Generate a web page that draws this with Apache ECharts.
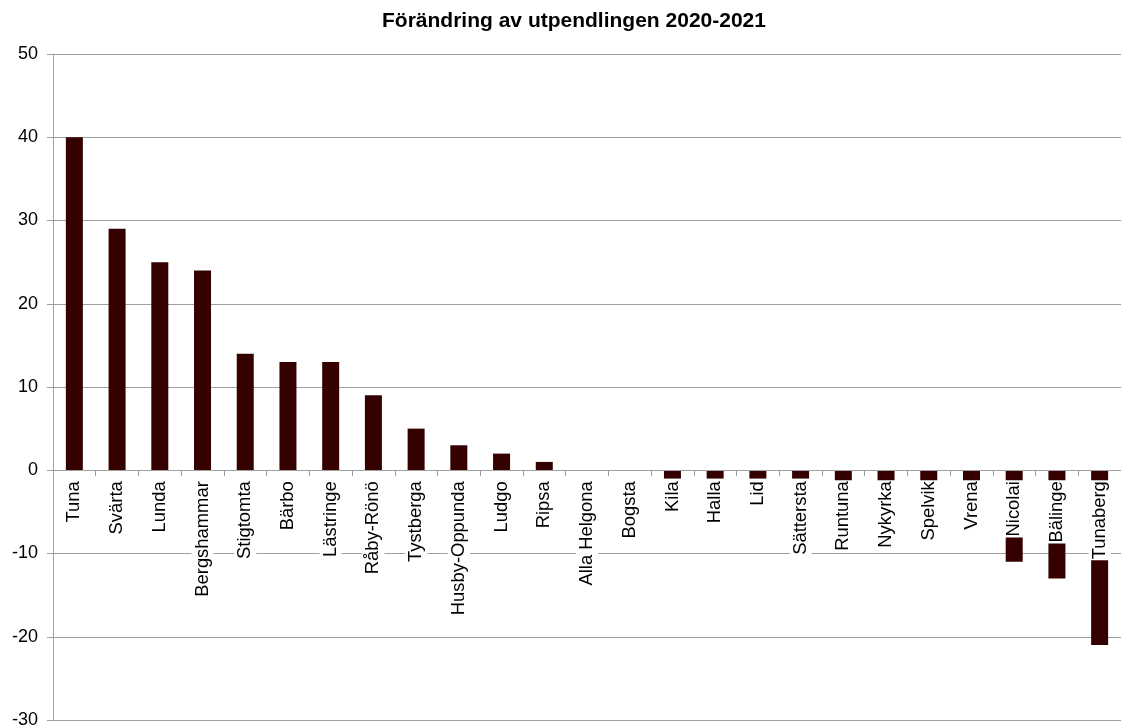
<!DOCTYPE html>
<html>
<head>
<meta charset="utf-8">
<script src="https://cdn.jsdelivr.net/npm/echarts@6/dist/echarts.min.js"></script>
<style>html,body{margin:0;padding:0;background:#fff}#c{width:1121px;height:728px}</style>
</head>
<body>
<div id="c"></div>
<script>
const titleText = 'Förändring av utpendlingen 2020-2021';
const categories = ['Tuna','Svärta','Lunda','Bergshammar','Stigtomta','Bärbo','Lästringe','Råby-Rönö','Tystberga','Husby-Oppunda','Ludgo','Ripsa','Alla Helgona','Bogsta','Kila','Halla','Lid','Sättersta','Runtuna','Nykyrka','Spelvik','Vrena','Nicolai','Bälinge','Tunaberg'];
const values = [40,29,25,24,14,13,13,9,5,3,2,1,0,0,-1,-1,-1,-1,-2,-2,-2,-2,-11,-13,-21];
const yMin = -30, yMax = 50, yStep = 10;

const chartH = 728, gridTop = 54, gridBottom = 8;
const plotH = chartH - gridTop - gridBottom;
const zeroY = gridTop + plotH * yMax / (yMax - yMin);
const font = 'Liberation Sans, Arial, sans-serif';
const gray = '#a0a0a0';

const chart = echarts.init(document.getElementById('c'));
chart.setOption({
  animation: false,
  backgroundColor: '#fff',
  title: {
    text: titleText,
    left: 569, top: 6, textAlign: 'center',
    textStyle: {fontFamily: font, fontWeight: 'bold', fontSize: 21, color: '#000'}
  },
  grid: [
    {left: 53, right: 0, top: gridTop, bottom: gridBottom, containLabel: false, outerBoundsMode: 'none'},
    {left: 53, right: 0, top: gridTop, bottom: chartH - zeroY, containLabel: false, outerBoundsMode: 'none'}
  ],
  xAxis: [
    {
      type: 'category', data: categories, gridIndex: 0,
      axisLine: {show: false}, axisTick: {show: false}, axisLabel: {show: false}, splitLine: {show: false}
    },
    {
      type: 'category', data: categories, gridIndex: 1, z: 10,
      axisLine: {show: true, onZero: false, lineStyle: {color: gray, width: 1}},
      axisTick: {show: true, length: 6, inside: false, lineStyle: {color: gray}},
      axisLabel: {
        interval: 0, rotate: 90, margin: 10,
        fontFamily: font, fontSize: 18.4, color: '#000',
        backgroundColor: '#fff', padding: [1, 1], lineHeight: 20
      },
      splitLine: {show: false}
    }
  ],
  yAxis: [
    {
      type: 'value', min: yMin, max: yMax, interval: yStep, gridIndex: 0, z: 0,
      axisLine: {show: true, lineStyle: {color: gray, width: 1}},
      axisTick: {show: true, length: 6, lineStyle: {color: gray}},
      axisLabel: {margin: 15, fontFamily: font, fontSize: 18, color: '#000'},
      splitLine: {show: true, lineStyle: {color: gray, width: 1}}
    },
    {
      type: 'value', min: 0, max: yMax, gridIndex: 1, show: false
    }
  ],
  series: [{
    type: 'bar', data: values, barWidth: 17, z: 2, xAxisIndex: 0, yAxisIndex: 0,
    itemStyle: {color: '#340000'}
  }]
});
</script>
</body>
</html>
